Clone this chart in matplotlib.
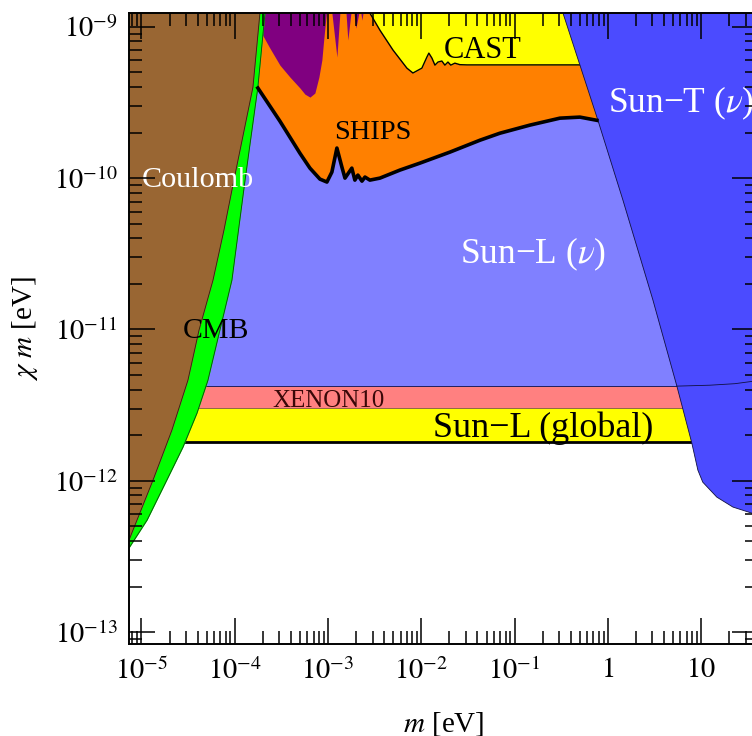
import matplotlib
matplotlib.use("Agg")
import matplotlib.pyplot as plt
import numpy as np
from matplotlib.ticker import LogLocator, FuncFormatter, NullFormatter

plt.rcParams['font.family'] = ['Liberation Serif', 'DejaVu Serif']
plt.rcParams['mathtext.fontset'] = 'stix'

# axis range
m_lim = [7.35e-6, 40.6]
y_lim = [8.34e-14, 1.233e-9]
TOP = y_lim[1]

# Coulomb bound (right edge of excluded region)
m_coulomb = [1.862e-4, 1.567e-4, 9.80e-5, 7.66e-5, 5.85e-5, 4.14e-5, 3.15e-5, 2.12e-5, 1.33e-5, 7.35e-6]
y_coulomb = [TOP, 3.99e-10, 9.7e-11, 4.53e-11, 2.12e-11, 9.89e-12, 4.62e-12, 2.16e-12, 1.01e-12, 4.05e-13]

# CMB bound
m_cmb = [2.11e-4, 1.77e-4, 1.29e-4, 9.33e-5, 6.93e-5, 5.16e-5, 3.94e-5, 2.79e-5, 1.87e-5, 1.15e-5, 7.35e-6]
y_cmb = [TOP, 3.99e-10, 9.7e-11, 2.12e-11, 9.89e-12, 4.62e-12, 2.80e-12, 1.67e-12, 1.01e-12, 5.50e-13, 3.59e-13]

# purple (top left) exclusion
m_purple = [1.38e-4, 1.86e-4, 2.38e-4, 3.05e-4, 3.91e-4, 5.00e-4, 5.65e-4, 6.40e-4, 7.23e-4, 7.98e-4,
            8.59e-4, 8.92e-4, 9.27e-4, 9.62e-4, 1.10e-3, 1.245e-3, 1.34e-3, 1.56e-3, 1.63e-3, 1.76e-3,
            1.90e-3, 1.99e-3, 2.14e-3, 2.25e-3, 2.31e-3, 2.37e-3]
y_purple = [TOP, 9.5e-10, 7.23e-10, 5.58e-10, 4.65e-10, 3.94e-10, 3.59e-10, 3.43e-10, 3.65e-10, 4.65e-10,
            6.03e-10, 7.80e-10, 9.95e-10, TOP, TOP, 6.31e-10, TOP, TOP, 8.17e-10, TOP,
            TOP, 9.8e-10, TOP, TOP, 1.107e-9, TOP]

# CAST
m_cast = [2.81e-3, 3.60e-3, 4.97e-3, 7.01e-3, 8.13e-3, 1.014e-2, 1.148e-2, 1.205e-2, 1.30e-2, 1.40e-2,
          1.51e-2, 1.66e-2, 1.79e-2, 1.93e-2, 2.07e-2, 2.29e-2, 2.59e-2, 3.08e-2, 0.6]
y_cast = [TOP, 9.5e-10, 7.02e-10, 5.33e-10, 4.95e-10, 5.33e-10, 6.31e-10, 6.70e-10, 6.21e-10, 5.58e-10,
          5.85e-10, 5.94e-10, 5.58e-10, 5.85e-10, 5.58e-10, 5.75e-10, 5.62e-10, 5.6e-10, 5.6e-10]

# SHIPS
m_ships = [1.77e-4, 3.05e-4, 5.00e-4, 6.40e-4, 8.19e-4, 9.73e-4, 1.10e-3, 1.245e-3, 1.41e-3,
           1.52e-3, 1.80e-3, 1.94e-3, 2.09e-3, 2.31e-3, 2.49e-3, 2.81e-3, 3.60e-3, 5.90e-3, 9.66e-3,
           2.03e-2, 4.25e-2, 6.95e-2, 0.146, 0.306, 0.501, 0.762]
y_ships = [3.94e-10, 2.38e-10, 1.46e-10, 1.164e-10, 9.85e-11, 9.42e-11, 1.096e-10, 1.58e-10, 1.18e-10,
           1.0e-10, 1.164e-10, 9.70e-11, 1.047e-10, 9.55e-11, 1.016e-10, 9.70e-11, 1.0e-10, 1.13e-10, 1.256e-10,
           1.486e-10, 1.78e-10, 1.98e-10, 2.24e-10, 2.49e-10, 2.53e-10, 2.41e-10]

# horizontal bands
sunl_nu_low = 4.22e-12
xenon_low = 3.02e-12
global_low = 1.80e-12
m_global_line = [2.92e-5, 7.94]

# Sun-L (nu) edge inside Sun-T region
m_sunl_edge = [5.49, 12.4, 23.0, 40.6]
y_sunl_edge = [4.22e-12, 4.28e-12, 4.38e-12, 4.59e-12]

# Sun-T boundary
m_sunT = [0.330, 0.782, 1.449, 3.04, 5.49, 7.94, 9.22, 10.4, 14.7, 21.9, 34.9, 42.6]
y_sunT = [TOP, 2.41e-10, 7.16e-11, 1.563e-11, 4.22e-12, 1.773e-12, 1.175e-12, 9.79e-13, 7.80e-13, 6.70e-13,
          6.11e-13, 5.93e-13]

fig = plt.figure(figsize=(7.52, 7.36), dpi=100)
ax = fig.add_axes([0.1715, 0.125, 0.8364, 0.8573])
ax.set_xscale('log')
ax.set_yscale('log')
ax.set_xlim(m_lim)
ax.set_ylim(y_lim)

x_ext = np.r_[m_lim[0], m_ships, m_lim[1]]
y_ext = np.r_[y_ships[0], y_ships, y_ships[-1]]
ax.fill_between(x_ext, sunl_nu_low, y_ext, color='#8080ff', lw=0, zorder=1)
ax.fill_between(x_ext, y_ext, TOP, color='#ff8000', lw=0, zorder=1)
ax.fill_between(m_purple, y_purple, TOP, color='#800080', lw=0, zorder=2)
ax.fill_between(m_cast, y_cast, TOP, color='#ffff00', lw=0, zorder=2)
ax.plot(m_cast, y_cast, color='black', lw=1.0, zorder=2.5)

ax.fill_between(m_lim, xenon_low, sunl_nu_low, color='#ff8080', lw=0, zorder=2)
ax.fill_between(m_lim, global_low, xenon_low, color='#ffff00', lw=0, zorder=2)
ax.axhline(sunl_nu_low, color='#202060', lw=0.7, zorder=2.5)
ax.axhline(xenon_low, color='#805050', lw=0.6, zorder=2.5)
ax.plot(m_global_line, [global_low, global_low], color='black', lw=2.0, zorder=2.5)

ax.fill(m_sunT + [m_sunT[-1]], y_sunT + [TOP], color='#4b4bff', lw=0, zorder=3)
ax.plot(m_sunT, y_sunT, color='#101040', lw=0.6, zorder=3.2)
ax.plot(m_sunl_edge, y_sunl_edge, color='#101040', lw=0.6, zorder=3.2)

ax.fill_betweenx(y_cmb, m_lim[0], m_cmb, color='#00ff00', lw=0, zorder=4)
ax.plot(m_cmb, y_cmb, color='#104010', lw=0.6, zorder=4.2)
ax.fill_betweenx(y_coulomb, m_lim[0], m_coulomb, color='#996633', lw=0, zorder=4.5)
ax.plot(m_coulomb, y_coulomb, color='#302010', lw=0.6, zorder=4.6)

ax.plot(m_ships, y_ships, color='black', lw=2.6, zorder=5, solid_joinstyle='round')

# labels
ax.text(0.0457, 6.21e-10, 'CAST', fontsize=22, ha='center', va='baseline', zorder=6)
ax.text(3.03e-3, 1.81e-10, 'SHIPS', fontsize=20.5, ha='center', va='baseline', zorder=6)
ax.text(1.0, 2.73e-10, 'Sun\u2212T ($\\nu$)', fontsize=25.5, color='white', ha='left', va='baseline', zorder=6)
ax.text(0.0259, 2.74e-11, 'Sun\u2212L ($\\nu$)', fontsize=25.5, color='white', ha='left', va='baseline', zorder=6)
ax.text(1.01e-5, 8.72e-11, 'Coulomb', fontsize=21.7, color='white', ha='left', va='baseline', zorder=6)
ax.text(2.79e-5, 8.77e-12, 'CMB', fontsize=21.5, ha='left', va='baseline', zorder=6)
ax.text(2.51e-4, 3.06e-12, 'XENON10', fontsize=18, color='#3a0808', ha='left', va='baseline', zorder=6)
ax.text(1.33e-2, 1.94e-12, 'Sun\u2212L (global)', fontsize=26, ha='left', va='baseline', zorder=6)

def fmt(v, pos):
    e = int(round(np.log10(v)))
    if e == 0:
        return '$1$'
    if e == 1:
        return '$10$'
    return r'$10^{%d}$' % e

for axis in (ax.xaxis, ax.yaxis):
    axis.set_major_locator(LogLocator(base=10, numticks=20))
    axis.set_minor_locator(LogLocator(base=10, subs=np.arange(2, 10), numticks=100))
    axis.set_major_formatter(FuncFormatter(fmt))
    axis.set_minor_formatter(NullFormatter())
    axis.set_zorder(20)

ax.tick_params(which='both', direction='in', top=True, right=True, labelsize=20.5, width=1.1)
ax.tick_params(which='major', length=18.5)
ax.tick_params(which='minor', length=9.5)
ax.tick_params(axis='x', pad=10)
ax.tick_params(axis='y', pad=8)
for s in ax.spines.values():
    s.set_linewidth(1.4)
    s.set_zorder(21)

ax.set_xlabel('$m$ [eV]', fontsize=21)
ax.set_ylabel(r'$\chi\ m$ [eV]', fontsize=21)
ax.xaxis.set_label_coords(0.5, -0.104)
ax.yaxis.set_label_coords(-0.142, 0.5)

fig.savefig('out.png', dpi=100)
